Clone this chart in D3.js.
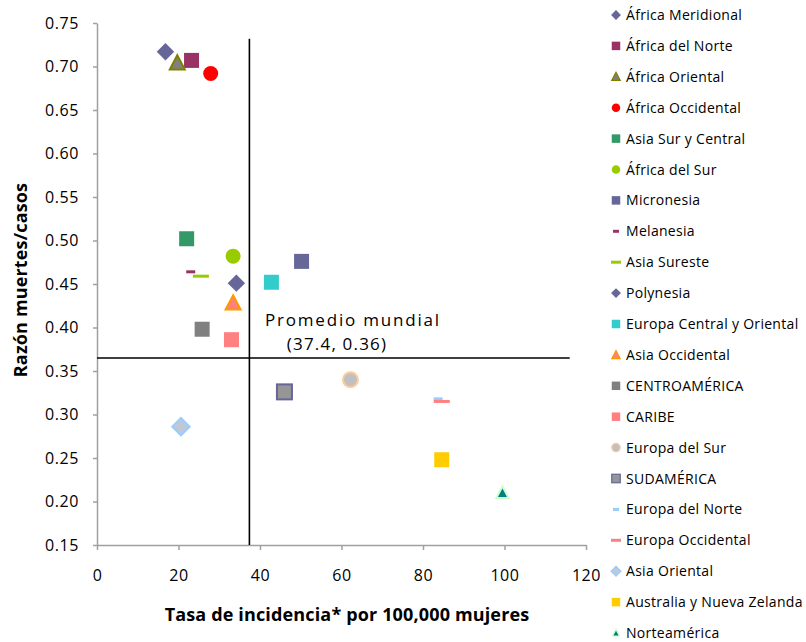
<!DOCTYPE html>
<head>
  <meta charset="utf-8">
  <style>
    body { margin: 0; background: #fff; }
    svg text { font-family: "Open Sans", Lato, sans-serif; fill: #000; }
    svg .axis path, svg .axis line { stroke: #A0A0A0; stroke-width: 1.5px; }
    svg .axis text { font-size: 16px; letter-spacing: 0.6px; }
    svg .title { font-size: 18px; font-weight: bold; letter-spacing: 0.15px; }
    svg .legend text { font-size: 14px; letter-spacing: 0.3px; }
    svg .note { font-size: 17px; letter-spacing: 1.2px; }
    svg .ref { stroke: #000; stroke-width: 1.6px; fill: none; }
  </style>
</head>

<body>
<script src="https://cdn.jsdelivr.net/npm/d3@7"></script>

<script>
  // regions, incidence rate (x) and deaths/cases ratio (y)
  var regions = ["África Meridional", "África del Norte", "África Oriental", "África Occidental",
    "Asia Sur y Central", "África del Sur", "Micronesia", "Melanesia", "Asia Sureste", "Polynesia",
    "Europa Central y Oriental", "Asia Occidental", "CENTROAMÉRICA", "CARIBE", "Europa del Sur",
    "SUDAMÉRICA", "Europa del Norte", "Europa Occidental", "Asia Oriental",
    "Australia y Nueva Zelanda", "Norteamérica"];
  var incidence = [16.8, 23.2, 19.7, 27.9, 22.0, 33.4, 50.2, 23.0, 25.5, 34.2,
    42.8, 33.4, 25.8, 33.0, 62.2, 46.0, 83.7, 84.6, 20.6, 84.6, 99.5];
  var ratio = [0.717, 0.707, 0.704, 0.692, 0.502, 0.482, 0.476, 0.464, 0.459, 0.451,
    0.452, 0.428, 0.398, 0.386, 0.340, 0.326, 0.318, 0.315, 0.286, 0.248, 0.210];

  // world average reference lines
  var worldAvg = [37.4, 0.36];
  var vLine = [[37.4, 0.732], [37.4, 0.15]];
  var hLine = [[0, 0.365], [116, 0.365]];

  var xTicks = [0, 20, 40, 60, 80, 100, 120];
  var yTicks = [0.15, 0.20, 0.25, 0.30, 0.35, 0.40, 0.45, 0.50, 0.55, 0.60, 0.65, 0.70, 0.75];

  // marker look per series: shape, fill, stroke
  var look = [
    { shape: "diamond", fill: "#666699" },
    { shape: "square", fill: "#993366" },
    { shape: "triangle", fill: "#808080", stroke: "#808000" },
    { shape: "circle", fill: "#FF0000" },
    { shape: "square", fill: "#339966" },
    { shape: "circle", fill: "#99CC00" },
    { shape: "square", fill: "#666699" },
    { shape: "dash", fill: "#993366", w: 9, lw: 6 },
    { shape: "dash", fill: "#99CC00", w: 16, lw: 10 },
    { shape: "diamond", fill: "#666699" },
    { shape: "square", fill: "#33CCCC" },
    { shape: "triangle", fill: "#FF8080", stroke: "#FF9900" },
    { shape: "square", fill: "#808080" },
    { shape: "square", fill: "#FF8080" },
    { shape: "circle", fill: "#C0C0C0", stroke: "#FFCC99" },
    { shape: "square", fill: "#969696", stroke: "#666699" },
    { shape: "dash", fill: "#99CCFF", w: 9, lw: 6 },
    { shape: "dash", fill: "#FF8080", w: 16, lw: 10 },
    { shape: "diamond", fill: "#C0C8D8", stroke: "#99CCFF" },
    { shape: "square", fill: "#FFCC00" },
    { shape: "triangle", fill: "#008080", stroke: "#CCFFCC", small: true }
  ];

  var plot = { left: 97, right: 586, top: 23, bottom: 545 };

  var svg = d3.select("body").append("svg")
      .attr("width", 806)
      .attr("height", 642);

  var xScale = d3.scaleLinear().domain([0, 120]).range([plot.left, plot.right]);
  var yScale = d3.scaleLinear().domain([0.15, 0.75]).range([plot.bottom, plot.top]);

  // axes
  svg.append("g")
      .attr("class", "axis")
      .attr("transform", "translate(0," + plot.bottom + ")")
      .call(d3.axisBottom(xScale).tickValues(xTicks).tickSize(5).tickSizeOuter(0).tickPadding(20));

  svg.append("g")
      .attr("class", "axis")
      .attr("transform", "translate(" + plot.left + ",0)")
      .call(d3.axisLeft(yScale).tickValues(yTicks).tickFormat(d3.format(".2f"))
        .tickSize(4).tickSizeOuter(0).tickPadding(14));

  // axis titles
  svg.append("text")
      .attr("class", "title")
      .attr("x", 347)
      .attr("y", 621)
      .attr("text-anchor", "middle")
      .text("Tasa de incidencia* por 100,000 mujeres");

  svg.append("text")
      .attr("class", "title")
      .attr("transform", "translate(27,280) rotate(-90)")
      .attr("text-anchor", "middle")
      .text("Razón muertes/casos");

  // reference lines
  var line = d3.line()
    .x(function (d) { return xScale(d[0]); })
    .y(function (d) { return yScale(d[1]); });

  svg.append("path").attr("class", "ref").attr("d", line(vLine));
  svg.append("path").attr("class", "ref").attr("d", line(hLine));

  svg.append("text")
      .attr("class", "note")
      .attr("x", 265)
      .attr("y", 326)
      .style("letter-spacing", "1.8px")
      .text("Promedio mundial");
  svg.append("text")
      .attr("class", "note")
      .attr("x", 337)
      .attr("y", 350)
      .attr("text-anchor", "middle")
      .text("(" + worldAvg[0] + ", " + worldAvg[1].toFixed(2) + ")");

  // draws a marker centred on 0,0
  function marker(g, st, s, legend) {
    var stroke = st.stroke || st.fill;
    var sw = st.stroke ? (legend ? 1.2 : 2) : 0;
    if (st.shape === "square") {
      g.append("rect").attr("x", -s / 2).attr("y", -s / 2).attr("width", s).attr("height", s);
    } else if (st.shape === "diamond") {
      var r = s * 0.58;
      g.append("path").attr("d", "M0," + (-r) + "L" + r + ",0L0," + r + "L" + (-r) + ",0Z");
    } else if (st.shape === "circle") {
      g.append("circle").attr("r", s / 2);
    } else if (st.shape === "triangle") {
      var t = st.small ? s * 0.82 : s;
      var h = t * 0.95;
      g.append("path").attr("d", "M0," + (-h * 0.55) + "L" + (t / 2) + "," + (h * 0.45) +
        "L" + (-t / 2) + "," + (h * 0.45) + "Z");
    } else if (st.shape === "dash") {
      var w = legend ? st.lw : st.w;
      g.append("rect").attr("x", -w / 2).attr("y", -1.5).attr("width", w).attr("height", 3);
    }
    g.selectAll("*")
      .style("fill", st.fill)
      .style("stroke", sw ? stroke : "none")
      .style("stroke-width", sw);
  }

  // points
  regions.forEach(function (name, i) {
    var g = svg.append("g")
        .attr("transform", "translate(" + xScale(incidence[i]) + "," + yScale(ratio[i]) + ")");
    marker(g, look[i], 15, false);
  });

  // legend
  var legend = svg.append("g").attr("class", "legend");
  regions.forEach(function (name, i) {
    var ly = 15 + i * 30.9;
    var g = legend.append("g").attr("transform", "translate(616," + ly + ")");
    marker(g, look[i], 8.5, true);
    legend.append("text")
        .attr("x", 626)
        .attr("y", ly)
        .attr("dy", "0.36em")
        .text(name);
  });
</script>
</body>
</html>
